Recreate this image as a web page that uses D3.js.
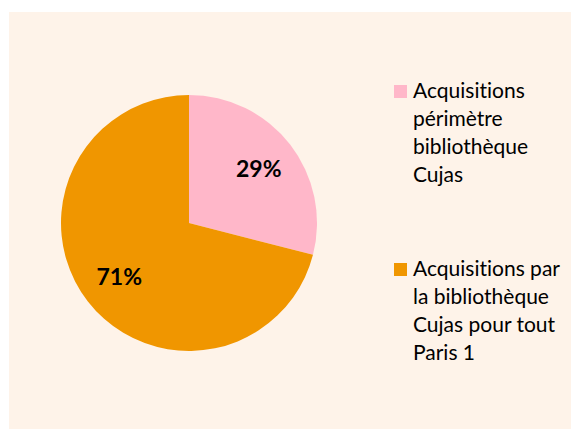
<!DOCTYPE html>
<html>
<head>
<meta charset="utf-8">
<script src="https://cdn.jsdelivr.net/npm/d3@7"></script>
<style>
	body{margin:0;background:#ffffff;}
	svg{display:block;}
	text{font-variant-ligatures:none;}
</style>
</head>
<body>
<svg width="571" height="430"></svg>
<script>
// données du graphique
var categories = ["Acquisitions périmètre bibliothèque Cujas", "Acquisitions par la bibliothèque Cujas pour tout Paris 1"];
var values = [29, 71];
var colors = ["#ffb7c9", "#f09600"];
// lignes de la légende (retour à la ligne comme dans l'original)
var legendLines = [
	["Acquisitions", "périmètre", "bibliothèque", "Cujas"],
	["Acquisitions par", "la bibliothèque", "Cujas pour tout", "Paris 1"]
];

function drawPie(){
	var svgObj = d3.select("svg");
	svgObj.selectAll("*").remove();

	// fond de la zone du graphique
	svgObj.append("rect")
		.attr("x", 9).attr("y", 12)
		.attr("width", 562).attr("height", 417)
		.attr("fill", "#fef3e9");

	var cx = 189, cy = 223, r = 128;
	var g = svgObj.append("g").attr("transform", "translate(" + cx + "," + cy + ")");

	var pie = d3.pie().sort(null).value(function(d){ return d; });
	var arcs = pie(values);
	var arc = d3.arc().innerRadius(0).outerRadius(r);
	var labelArc = d3.arc().innerRadius(r * 0.69).outerRadius(r * 0.69);

	g.selectAll("path")
	  .data(arcs)
	  .enter()
	  .append("path")
	  .attr("d", arc)
	  .attr("fill", function(d, i){ return colors[i]; });

	// étiquettes en pourcentage
	g.selectAll("text.pct")
	  .data(arcs)
	  .enter()
	  .append("text")
	  .attr("class", "pct")
	  .attr("transform", function(d){ return "translate(" + labelArc.centroid(d) + ")"; })
	  .attr("text-anchor", "middle")
	  .attr("dy", "0.35em")
	  .attr("font-family", "Lato, 'Open Sans', sans-serif")
	  .attr("font-weight", "bold")
	  .attr("font-size", "23px")
	  .attr("fill", "#000")
	  .text(function(d){ return d.data + "%"; });

	// légende
	var legendTop = [98, 276];
	var legend = svgObj.selectAll("g.legend")
	  .data(categories)
	  .enter()
	  .append("g")
	  .attr("class", "legend");

	legend.append("rect")
	  .attr("x", 394)
	  .attr("y", function(d, i){ return legendTop[i] - 13; })
	  .attr("width", 13).attr("height", 13)
	  .attr("fill", function(d, i){ return colors[i]; });

	legend.append("text")
	  .attr("font-family", "Lato, 'Open Sans', sans-serif")
	  .attr("font-size", "21px")
	  .attr("fill", "#000")
	  .each(function(d, i){
			var t = d3.select(this);
			for(var j = 0; j < legendLines[i].length; j++){
				t.append("tspan")
				 .attr("x", 413)
				 .attr("y", legendTop[i] + j * 28)
				 .text(legendLines[i][j]);
			}
	  });
}
drawPie();
</script>
</body>
</html>
